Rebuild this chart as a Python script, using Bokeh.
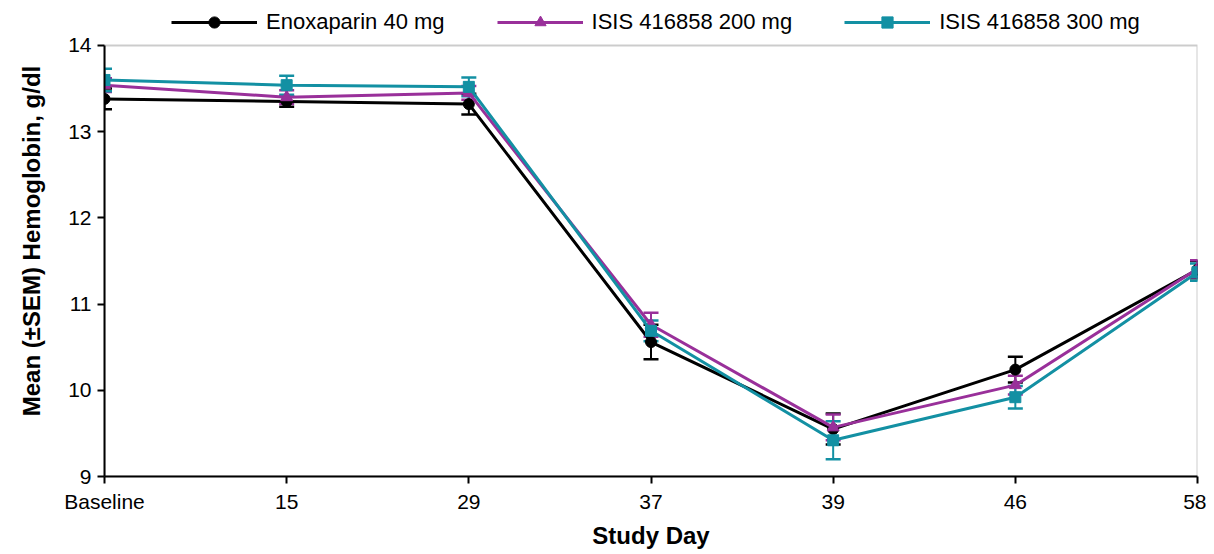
from bokeh.plotting import figure
from bokeh.models import (ColumnDataSource, Whisker, TeeHead, Legend, LegendItem,
                          FixedTicker, Range1d, BoxAnnotation)
from bokeh.embed import file_html
from bokeh.resources import INLINE

days = ["Baseline", "15", "29", "37", "39", "46", "58"]
xpos = [0, 1, 2, 3, 4, 5, 6]
yticks = [9, 10, 11, 12, 13, 14]

enox_mean = [13.38, 13.35, 13.32, 10.56, 9.55, 10.24, 11.40]
enox_sem = [0.12, 0.06, 0.12, 0.20, 0.18, 0.15, 0.10]
isis200_mean = [13.54, 13.40, 13.45, 10.76, 9.57, 10.06, 11.41]
isis200_sem = [0.08, 0.08, 0.08, 0.14, 0.15, 0.11, 0.10]
isis300_mean = [13.60, 13.54, 13.52, 10.69, 9.42, 9.92, 11.37]
isis300_sem = [0.13, 0.11, 0.11, 0.12, 0.22, 0.13, 0.10]

series = [
    ("Enoxaparin 40 mg", enox_mean, enox_sem, "#000000", "circle", 11),
    ("ISIS 416858 200 mg", isis200_mean, isis200_sem, "#99309A", "triangle", 12),
    ("ISIS 416858 300 mg", isis300_mean, isis300_sem, "#1390A3", "square", 11),
]

FONT = "Liberation Sans"
YMIN, YMAX = 9, 14
Y_TOP_ROOM = 5.464  # frame extends above 14 to hold the legend

p = figure(width=1206, height=552, output_backend="svg", toolbar_location=None,
           x_range=Range1d(0, 6), y_range=Range1d(YMIN, YMIN + Y_TOP_ROOM),
           min_border_left=104, min_border_right=9, min_border_top=5,
           min_border_bottom=76)
p.grid.visible = False
p.outline_line_color = None
p.background_fill_color = "white"

# gray plot-area frame (top and right edges visible)
p.add_layout(BoxAnnotation(left=xpos[0], right=xpos[-1], bottom=YMIN, top=YMAX,
                           fill_alpha=0, line_color="#555555", line_width=2,
                           level="underlay"))

items = []
for label, mean, sem, color, marker, size in series:
    src = ColumnDataSource(dict(x=xpos, y=mean,
                                lo=[m - s for m, s in zip(mean, sem)],
                                hi=[m + s for m, s in zip(mean, sem)]))
    ln = p.line("x", "y", source=src, line_color=color, line_width=3)
    w = Whisker(base="x", lower="lo", upper="hi", source=src, line_color=color,
                line_width=2,
                upper_head=TeeHead(size=15, line_color=color, line_width=2.5),
                lower_head=TeeHead(size=15, line_color=color, line_width=2.5))
    p.add_layout(w)
    sc = p.scatter("x", "y", source=src, marker=marker, size=size,
                   fill_color=color, line_color=color)
    items.append(LegendItem(label=label, renderers=[ln, sc]))

legend = Legend(items=items, orientation="horizontal", location=(67, 440),
                glyph_width=86, glyph_height=28, label_standoff=9, spacing=52,
                padding=0, margin=0, border_line_color=None,
                background_fill_alpha=0,
                label_text_font=FONT, label_text_font_size="22px",
                label_text_color="#000000")
p.add_layout(legend, "center")

p.xaxis.ticker = FixedTicker(ticks=xpos)
p.xaxis.major_label_overrides = {x: d for x, d in zip(xpos, days)}
p.yaxis.ticker = FixedTicker(ticks=yticks)
p.yaxis.bounds = (YMIN, YMAX)
for ax in (p.xaxis, p.yaxis):
    ax.axis_line_color = "#000000"
    ax.axis_line_width = 2
    ax.major_tick_line_color = "#000000"
    ax.major_tick_line_width = 2
    ax.major_tick_out = 7
    ax.major_tick_in = 0
    ax.minor_tick_line_color = None
    ax.major_label_text_font = FONT
    ax.major_label_text_font_size = "21px"
    ax.major_label_text_color = "#000000"
    ax.axis_label_text_font = FONT
    ax.axis_label_text_font_style = "bold"
    ax.axis_label_text_color = "#000000"

p.xaxis.axis_label = "Study Day"
p.yaxis.axis_label = "Mean (±SEM) Hemoglobin, g/dl"
p.xaxis.axis_label_text_font_size = "24px"
p.yaxis.axis_label_text_font_size = "24px"
p.xaxis.major_label_standoff = 6
p.xaxis.axis_label_standoff = 6
p.yaxis.major_label_standoff = 6
p.yaxis.axis_label_standoff = 20

open("out.html", "w").write(file_html(p, INLINE))
